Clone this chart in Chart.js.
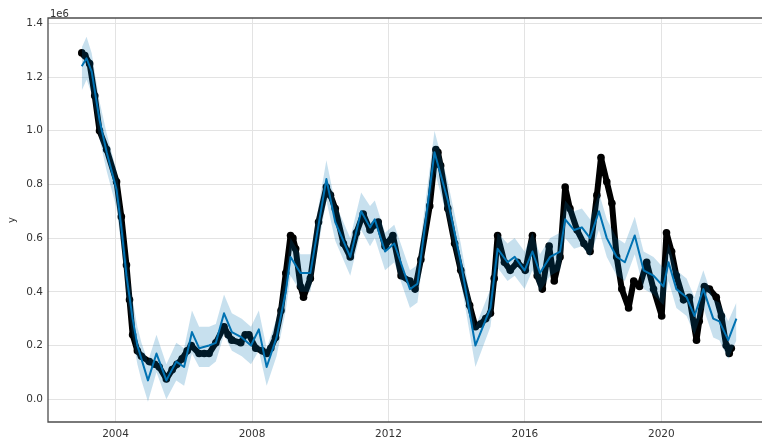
<!DOCTYPE html>
<html lang="en">
<head>
    <meta charset="UTF-8">
    <title>Forecast</title>
    <script src="https://cdn.jsdelivr.net/npm/chart.js"></script>
    <style>
        html, body { margin: 0; padding: 0; background: #fff; }
    </style>
</head>
<body>
    <canvas id="myChart" width="766" height="439"></canvas>

    <script>
        // observed points (values in units of 1e6)
        const obsYears = [
            2003.01, 2003.10, 2003.24, 2003.39, 2003.53, 2003.74, 2004.03, 2004.17, 2004.32, 2004.41,
            2004.50, 2004.64, 2004.76, 2004.99, 2005.15, 2005.28, 2005.49, 2005.66, 2005.80, 2005.95,
            2006.10, 2006.22, 2006.45, 2006.60, 2006.74, 2006.94, 2007.18, 2007.30, 2007.41, 2007.67,
            2007.80, 2007.91, 2008.11, 2008.30, 2008.43, 2008.55, 2008.69, 2008.85, 2008.99, 2009.13,
            2009.20, 2009.28, 2009.42, 2009.51, 2009.71, 2009.95, 2010.18, 2010.30, 2010.44, 2010.68,
            2010.88, 2011.06, 2011.26, 2011.46, 2011.60, 2011.70, 2011.90, 2012.13, 2012.37, 2012.63,
            2012.78, 2012.95, 2013.21, 2013.39, 2013.45, 2013.53, 2013.74, 2013.94, 2014.12, 2014.38,
            2014.55, 2014.70, 2014.85, 2014.99, 2015.10, 2015.20, 2015.40, 2015.57, 2015.78, 2016.01,
            2016.22, 2016.36, 2016.51, 2016.71, 2016.86, 2017.03, 2017.18, 2017.32, 2017.53, 2017.73,
            2017.91, 2018.11, 2018.23, 2018.40, 2018.55, 2018.69, 2018.84, 2019.04, 2019.19, 2019.36,
            2019.57, 2019.77, 2020.01, 2020.15, 2020.30, 2020.44, 2020.65, 2020.82, 2021.03, 2021.11,
            2021.26, 2021.41, 2021.61, 2021.76, 2021.90, 2021.99, 2022.05
        ];
        const obsValues = [
            1.29, 1.28, 1.25, 1.13, 1.00, 0.93, 0.81, 0.68, 0.50, 0.37,
            0.24, 0.18, 0.16, 0.14, 0.13, 0.12, 0.075, 0.11, 0.13, 0.15,
            0.18, 0.20, 0.17, 0.17, 0.17, 0.21, 0.27, 0.24, 0.22, 0.21,
            0.24, 0.24, 0.19, 0.18, 0.17, 0.19, 0.23, 0.33, 0.47, 0.61,
            0.60, 0.56, 0.42, 0.38, 0.45, 0.66, 0.79, 0.76, 0.71, 0.58,
            0.53, 0.62, 0.69, 0.63, 0.65, 0.66, 0.57, 0.61, 0.46, 0.44,
            0.41, 0.52, 0.72, 0.93, 0.92, 0.87, 0.71, 0.58, 0.48, 0.35,
            0.27, 0.28, 0.30, 0.32, 0.45, 0.61, 0.51, 0.48, 0.51, 0.48,
            0.61, 0.46, 0.41, 0.57, 0.44, 0.53, 0.79, 0.71, 0.63, 0.58,
            0.55, 0.76, 0.90, 0.81, 0.73, 0.53, 0.41, 0.34, 0.44, 0.42,
            0.51, 0.41, 0.31, 0.62, 0.55, 0.46, 0.37, 0.38, 0.22, 0.29,
            0.42, 0.41, 0.38, 0.31, 0.20, 0.17, 0.19
        ];

        // model forecast with its uncertainty band
        const fcstYears = [
            2003.01, 2003.15, 2003.30, 2003.53, 2003.74, 2004.03, 2004.17, 2004.32, 2004.50, 2004.64,
            2004.76, 2004.95, 2005.20, 2005.49, 2005.78, 2006.01, 2006.24, 2006.45, 2006.74, 2006.94,
            2007.18, 2007.41, 2007.70, 2007.97, 2008.20, 2008.43, 2008.72, 2008.99, 2009.13, 2009.42,
            2009.71, 2010.18, 2010.44, 2010.88, 2011.20, 2011.46, 2011.60, 2011.90, 2012.17, 2012.63,
            2012.85, 2013.35, 2013.74, 2014.12, 2014.55, 2014.99, 2015.20, 2015.49, 2015.70, 2015.99,
            2016.22, 2016.44, 2016.74, 2017.03, 2017.18, 2017.44, 2017.67, 2017.91, 2018.17, 2018.40,
            2018.69, 2018.93, 2019.22, 2019.48, 2019.77, 2020.06, 2020.21, 2020.44, 2020.74, 2020.97,
            2021.23, 2021.52, 2021.70, 2021.96, 2022.20
        ];
        const fcstValues = [
            1.24, 1.27, 1.22, 1.04, 0.92, 0.78, 0.64, 0.46, 0.30, 0.20,
            0.15, 0.07, 0.17, 0.07, 0.14, 0.12, 0.25, 0.19, 0.20, 0.21,
            0.32, 0.25, 0.23, 0.20, 0.26, 0.12, 0.23, 0.40, 0.53, 0.47,
            0.47, 0.82, 0.66, 0.53, 0.70, 0.64, 0.67, 0.55, 0.58, 0.41,
            0.43, 0.92, 0.74, 0.51, 0.20, 0.34, 0.56, 0.51, 0.53, 0.48,
            0.55, 0.47, 0.53, 0.55, 0.67, 0.63, 0.64, 0.60, 0.70, 0.60,
            0.53, 0.51, 0.61, 0.48, 0.46, 0.42, 0.51, 0.41, 0.38, 0.31,
            0.41, 0.30, 0.29, 0.22, 0.30
        ];
        const fcstLower = [
            1.15, 1.19, 1.14, 0.97, 0.85, 0.71, 0.57, 0.39, 0.23, 0.13,
            0.07, -0.01, 0.10, 0.00, 0.07, 0.05, 0.17, 0.12, 0.12, 0.14,
            0.24, 0.18, 0.16, 0.13, 0.18, 0.05, 0.16, 0.33, 0.46, 0.40,
            0.40, 0.74, 0.59, 0.46, 0.63, 0.57, 0.60, 0.48, 0.51, 0.34,
            0.36, 0.85, 0.67, 0.44, 0.12, 0.27, 0.49, 0.44, 0.46, 0.41,
            0.48, 0.40, 0.46, 0.48, 0.60, 0.56, 0.57, 0.53, 0.63, 0.53,
            0.46, 0.44, 0.54, 0.41, 0.39, 0.35, 0.44, 0.34, 0.31, 0.24,
            0.34, 0.23, 0.22, 0.15, 0.22
        ];
        const fcstUpper = [
            1.31, 1.35, 1.29, 1.11, 0.99, 0.85, 0.71, 0.53, 0.37, 0.27,
            0.21, 0.14, 0.24, 0.13, 0.21, 0.19, 0.33, 0.27, 0.27, 0.28,
            0.39, 0.32, 0.30, 0.27, 0.33, 0.19, 0.30, 0.47, 0.60, 0.54,
            0.54, 0.89, 0.73, 0.60, 0.77, 0.72, 0.74, 0.62, 0.65, 0.48,
            0.50, 1.00, 0.81, 0.58, 0.27, 0.41, 0.62, 0.58, 0.60, 0.55,
            0.62, 0.54, 0.60, 0.62, 0.74, 0.70, 0.71, 0.67, 0.77, 0.67,
            0.60, 0.58, 0.68, 0.55, 0.53, 0.49, 0.58, 0.48, 0.45, 0.38,
            0.48, 0.37, 0.36, 0.29, 0.36
        ];

        const xTicks = [2004, 2008, 2012, 2016, 2020];
        const yTicks = [0.0, 0.2, 0.4, 0.6, 0.8, 1.0, 1.2, 1.4];

        const toPoints = (xs, ys) => xs.map((x, i) => ({ x: x, y: ys[i] }));

        const tickFont = { family: 'DejaVu Sans', size: 10.5 };

        // axes frame (left, top, bottom) and the 1e6 offset text
        const framePlugin = {
            id: 'frame',
            afterDraw(chart) {
                const { ctx, chartArea: a } = chart;
                ctx.save();
                ctx.strokeStyle = '#4d4d4d';
                ctx.lineWidth = 1.3;
                ctx.beginPath();
                ctx.moveTo(a.right, a.top);
                ctx.lineTo(a.left, a.top);
                ctx.lineTo(a.left, a.bottom);
                ctx.lineTo(a.right, a.bottom);
                ctx.stroke();
                ctx.fillStyle = '#333';
                ctx.font = '10px "DejaVu Sans"';
                ctx.textBaseline = 'bottom';
                ctx.fillText('1e6', a.left + 2, a.top + 1);
                ctx.restore();
            }
        };

        const ctx = document.getElementById('myChart').getContext('2d');
        new Chart(ctx, {
            type: 'line',
            data: {
                datasets: [
                    {
                        label: 'y',
                        data: toPoints(obsYears, obsValues),
                        borderColor: '#000',
                        borderWidth: 6,
                        borderJoinStyle: 'round',
                        borderCapStyle: 'round',
                        pointRadius: 3.8,
                        pointBackgroundColor: '#000',
                        pointBorderWidth: 0,
                        fill: false,
                        order: 3
                    },
                    {
                        label: 'upper',
                        data: toPoints(fcstYears, fcstUpper),
                        borderWidth: 0,
                        pointRadius: 0,
                        backgroundColor: 'rgba(0, 114, 178, 0.22)',
                        fill: '+1',
                        order: 2
                    },
                    {
                        label: 'lower',
                        data: toPoints(fcstYears, fcstLower),
                        borderWidth: 0,
                        pointRadius: 0,
                        fill: false,
                        order: 2
                    },
                    {
                        label: 'yhat',
                        data: toPoints(fcstYears, fcstValues),
                        borderColor: '#0072B2',
                        borderWidth: 2,
                        borderJoinStyle: 'round',
                        pointRadius: 0,
                        fill: false,
                        order: 1
                    }
                ]
            },
            options: {
                responsive: false,
                animation: false,
                devicePixelRatio: 1,
                layout: { padding: { top: 18, right: 0, left: 0, bottom: 0 } },
                plugins: {
                    legend: { display: false },
                    tooltip: { enabled: false }
                },
                scales: {
                    x: {
                        type: 'linear',
                        min: 2002.02,
                        max: 2022.95,
                        afterBuildTicks: (s) => { s.ticks = xTicks.map(v => ({ value: v })); },
                        afterFit: (s) => { s.height = 17; },
                        grid: { color: '#e3e3e3', drawTicks: false },
                        border: { display: false },
                        ticks: {
                            callback: (v) => String(v),
                            font: tickFont,
                            color: '#333',
                            padding: 6,
                            maxRotation: 0,
                            autoSkip: false
                        }
                    },
                    y: {
                        min: -0.085,
                        max: 1.42,
                        afterBuildTicks: (s) => { s.ticks = yTicks.map(v => ({ value: v })); },
                        afterFit: (s) => { s.width = 48; },
                        grid: { color: '#e3e3e3', drawTicks: false },
                        border: { display: false },
                        title: {
                            display: true,
                            text: 'y',
                            font: { family: 'DejaVu Sans', size: 10 },
                            color: '#333',
                            padding: { top: 6, bottom: 0 }
                        },
                        ticks: {
                            callback: (v) => v.toFixed(1),
                            font: tickFont,
                            color: '#333',
                            padding: 5
                        }
                    }
                }
            },
            plugins: [framePlugin]
        });
    </script>
</body>
</html>
